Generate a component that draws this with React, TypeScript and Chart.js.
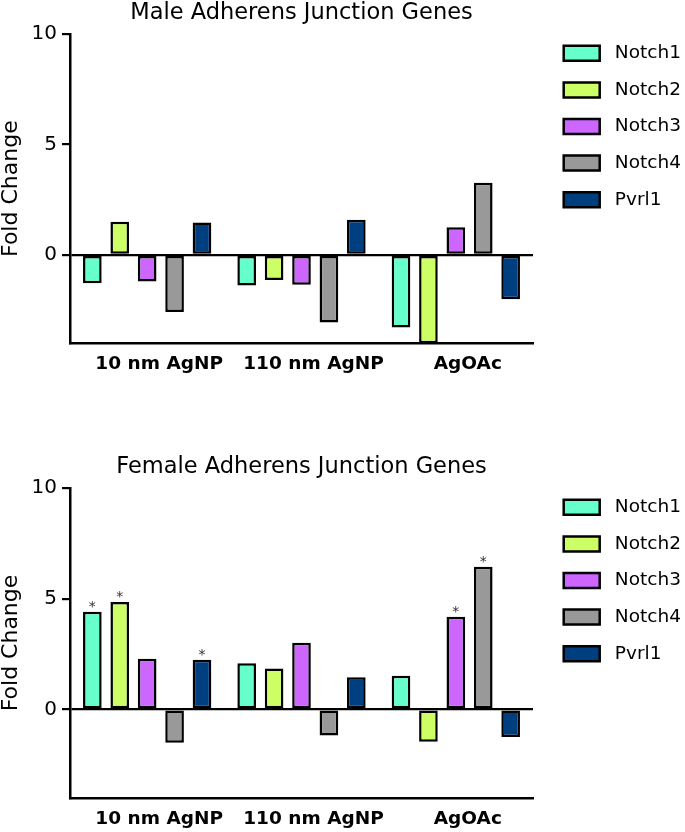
import React, { useEffect, useRef } from "react";
import { Chart, registerables } from "chart.js";

Chart.register(...registerables);

// ---------- data ----------
const categories = ["10 nm AgNP", "110 nm AgNP", "AgOAc"];
const genes = ["Notch1", "Notch2", "Notch3", "Notch4", "Pvrl1"];
const geneColors = ["#66FFCC", "#CCFF66", "#CC66FF", "#999999", "#003F7F"];
const yTicks = [0, 5, 10];
const yMin = -4;
const yMax = 10;

const maleNotch1 = [-1.28, -1.38, -3.29];
const maleNotch2 = [1.5, -1.13, -4.0];
const maleNotch3 = [-1.2, -1.35, 1.25];
const maleNotch4 = [-2.58, -3.06, 3.27];
const malePvrl1 = [1.47, 1.59, -2.01];

const femaleNotch1 = [4.41, 2.08, 1.52];
const femaleNotch2 = [4.85, 1.85, -1.46];
const femaleNotch3 = [2.29, 3.01, 4.18];
const femaleNotch4 = [-1.51, -1.18, 6.44];
const femalePvrl1 = [2.24, 1.45, -1.24];

// significance markers (*) per gene, per category
const maleSig = [
  [false, false, false],
  [false, false, false],
  [false, false, false],
  [false, false, false],
  [false, false, false],
];
const femaleSig = [
  [true, false, false],
  [true, false, false],
  [false, false, true],
  [false, false, true],
  [true, false, false],
];

const FONT = "'DejaVu Sans', 'Liberation Sans', Arial, sans-serif";

const starPlugin = {
  id: "stars",
  afterDatasetsDraw(chart: any, _args: any, opts: any) {
    const sig: boolean[][] = opts.sig || [];
    const ctx = chart.ctx;
    ctx.save();
    ctx.fillStyle = "#333";
    ctx.font = `14px ${FONT}`;
    ctx.textAlign = "center";
    ctx.textBaseline = "alphabetic";
    sig.forEach((row, d) => {
      const meta = chart.getDatasetMeta(d);
      row.forEach((flag, i) => {
        if (!flag) return;
        const el = meta.data[i];
        if (!el) return;
        ctx.fillText("*", el.x, el.y - 1);
      });
    });
    ctx.restore();
  },
};

function makeConfig(title: string, series: number[][], sig: boolean[][], padBottom: number): any {
  return {
    type: "bar",
    data: {
      labels: categories,
      datasets: series.map((vals, k) => ({
        label: genes[k],
        data: vals,
        backgroundColor: geneColors[k],
        borderColor: "#000",
        borderWidth: 2.5,
        borderSkipped: false,
        categoryPercentage: 0.888,
        barPercentage: 0.68,
      })),
    },
    options: {
      responsive: false,
      animation: false,
      events: [],
      layout: { padding: { left: 0, right: 0, top: 0, bottom: padBottom } },
      plugins: {
        stars: { sig },
        tooltip: { enabled: false },
        title: {
          display: true,
          text: title,
          fullSize: false,
          color: "#000",
          font: { family: FONT, size: 22.5, weight: "normal", lineHeight: 1.2 },
          padding: { top: 0, bottom: 7 },
        },
        legend: {
          display: true,
          position: "right",
          align: "start",
          maxWidth: 139.4,
          title: {
            display: true,
            text: "",
            font: { size: 10, lineHeight: 1 },
            padding: { top: 15.95, bottom: 0 },
          },
          labels: {
            color: "#000",
            font: { family: FONT, size: 18.5 },
            boxWidth: 36,
            boxHeight: 15,
            padding: 18.1,
            generateLabels: (chart: any) =>
              Chart.defaults.plugins.legend.labels
                .generateLabels(chart)
                .map((it: any) => ({ ...it, text: " " + it.text })),
          },
        },
      },
      scales: {
        x: {
          type: "category",
          offset: true,
          grid: { display: false },
          border: { display: true, color: "#000", width: 2.5 },
          ticks: {
            color: "#000",
            font: { family: FONT, size: 18.5, weight: "bold" },
            padding: 1.7,
            labelOffset: 12,
            maxRotation: 0,
            autoSkip: false,
          },
          afterFit: (s: any) => {
            s.height = 34;
          },
        },
        y: {
          type: "linear",
          position: "left",
          min: yMin,
          max: yMax,
          afterBuildTicks: (s: any) => {
            s.ticks = yTicks.map((v) => ({ value: v }));
          },
          ticks: {
            color: "#000",
            font: { family: FONT, size: 20 },
            padding: 5,
          },
          grid: {
            display: true,
            drawOnChartArea: true,
            drawTicks: true,
            tickLength: 8,
            lineWidth: 2.2,
            tickWidth: 2.2,
            tickColor: "#000",
            color: (c: any) => (c.tick && c.tick.value === 0 ? "#000" : "rgba(0,0,0,0)"),
          },
          border: { display: true, color: "#000", width: 2.5 },
          title: {
            display: true,
            text: "Fold Change",
            color: "#000",
            font: { family: FONT, size: 22, lineHeight: 1 },
            padding: 0,
          },
          afterFit: (s: any) => {
            s.width = 70;
          },
        },
        spacer: {
          type: "linear",
          position: "right",
          display: true,
          grid: { display: false },
          border: { display: false },
          ticks: { display: false },
          afterFit: (s: any) => {
            s.width = 12.6;
          },
        },
      },
    },
    plugins: [starPlugin],
  };
}

function BarChart(props: { height: number; config: any }) {
  const ref = useRef<HTMLCanvasElement | null>(null);
  useEffect(() => {
    if (!ref.current) return;
    const chart = new Chart(ref.current, props.config);
    return () => chart.destroy();
  }, []);
  return (
    <canvas
      ref={ref}
      width={685}
      height={props.height}
      style={{ display: "block", width: 685, height: props.height }}
    />
  );
}

export default function App() {
  useEffect(() => {
    document.body.style.margin = "0";
  }, []);
  const maleCfg = makeConfig(
    "Male Adherens Junction Genes",
    [maleNotch1, maleNotch2, maleNotch3, maleNotch4, malePvrl1],
    maleSig,
    76.7
  );
  const femaleCfg = makeConfig(
    "Female Adherens Junction Genes",
    [femaleNotch1, femaleNotch2, femaleNotch3, femaleNotch4, femalePvrl1],
    femaleSig,
    0
  );
  return (
    <div style={{ width: 685, height: 832, background: "#fff", overflow: "hidden" }}>
      <BarChart height={454} config={maleCfg} />
      <BarChart height={378} config={femaleCfg} />
    </div>
  );
}
